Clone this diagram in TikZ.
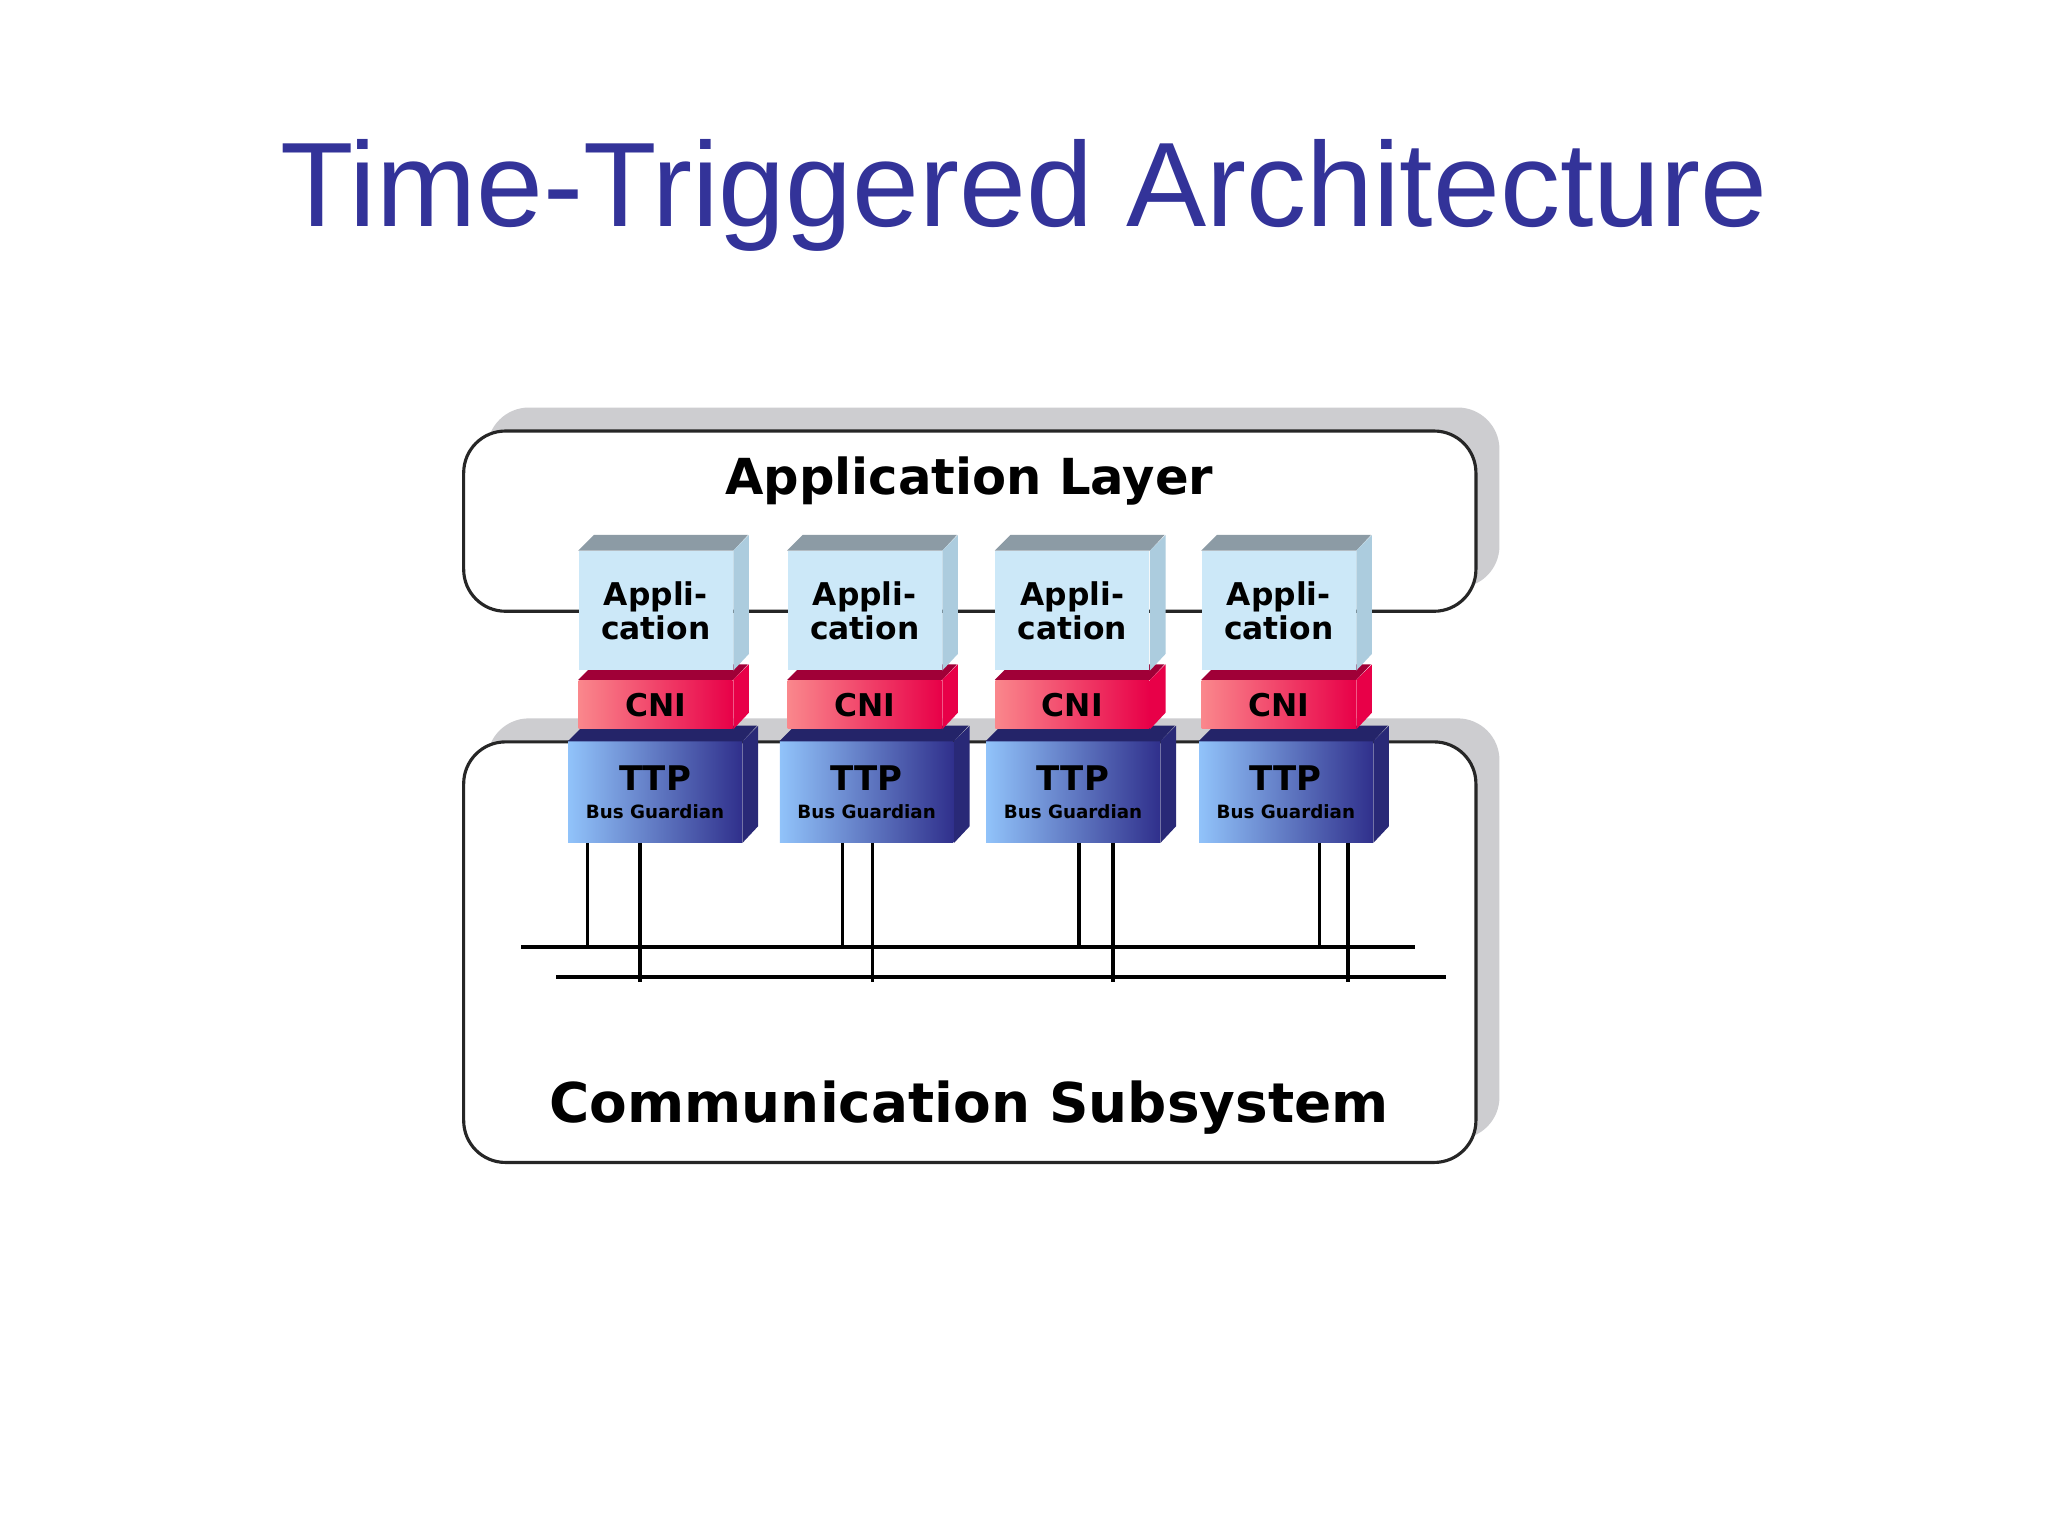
\documentclass[tikz,border=0pt]{standalone}
\usepackage{fontspec}
\setmainfont{Liberation Sans}
\newfontfamily\lab{DejaVu Sans}
\definecolor{titlec}{RGB}{51,51,153}
\definecolor{appf}{RGB}{204,232,248}
\definecolor{apps}{RGB}{172,204,222}
\definecolor{appt}{RGB}{140,155,165}
\definecolor{cnil}{RGB}{250,135,140}
\definecolor{cnir}{RGB}{232,0,72}
\definecolor{cnit}{RGB}{160,0,55}
\definecolor{ttpl}{RGB}{145,195,250}
\definecolor{ttpr}{RGB}{48,48,140}
\definecolor{ttpt}{RGB}{36,36,105}
\definecolor{shad}{RGB}{205,205,208}
\tikzset{
 layerbox/.style={draw=black!85,line width=1.2pt,fill=white,rounded corners=16pt},
 shadowbox/.style={fill=shad,rounded corners=16pt},
 appbox/.style={fill=appf,minimum width=59pt,minimum height=45.5pt,inner sep=0pt,align=center,font=\lab\bfseries\fontsize{12}{13}\selectfont},
 cnibox/.style={left color=cnil,right color=cnir,minimum width=59pt,minimum height=18.5pt,inner sep=0pt,font=\lab\bfseries\fontsize{12}{13}\selectfont},
 ttpbox/.style={left color=ttpl,right color=ttpr,minimum width=66.5pt,minimum height=38.5pt,inner sep=0pt,align=center},
 wire/.style={line width=1.3pt,black}
}
\begin{document}
\begin{tikzpicture}[x=0.5pt,y=-0.5pt]
\fill[white] (0,0) rectangle (1568,1176);
\useasboundingbox (0,0) rectangle (1568,1176);
\node[text=titlec,font=\fontsize{46}{50}\selectfont] (title) at (784,150) {Time-Triggered Architecture};
% shadows and layer boxes
\fill[shadowbox] (373,312) rectangle (1148,450);
\fill[shadowbox] (373,550) rectangle (1148,872);
\draw[layerbox] (355,330) rectangle (1130,468);
\draw[layerbox] (355,568) rectangle (1130,890);
\node[font=\lab\bfseries\fontsize{19}{22}\selectfont] (al) at (742,368) {Application Layer};
\node[font=\lab\bfseries\fontsize{21}{24}\selectfont] (cs) at (742,848) {Communication Subsystem};
% buses
\coordinate (bA1) at (399,725); \coordinate (bA2) at (1083,725);
\coordinate (bB1) at (426,748); \coordinate (bB2) at (1107,748);
\draw[wire] (bA1) -- (bA2);
\draw[wire] (bB1) -- (bB2);
\foreach \i/\ax/\tx/\la/\lb in {1/443/435/450/490,2/603/597/645/668,3/762/755/826/852,4/920/918/1010/1032}{
 % TTP
 \node[ttpbox] (ttp\i) at (\tx+66.5,606.5) {\lab\bfseries\fontsize{13}{14}\selectfont TTP\\[-1pt]\lab\bfseries\fontsize{7}{8}\selectfont Bus Guardian};
 \fill[ttpt] (ttp\i.north west) -- ++(6pt,6pt) -- ++(66.5pt,0) -- (ttp\i.north east) -- cycle;
 \fill[ttpr!85!black] (ttp\i.north east) -- ++(6pt,6pt) -- ++(0,-38.5pt) -- (ttp\i.south east) -- cycle;
 \draw[wire] (ttp\i.south -| \la,0) -- (\la,0 |- bA1);
 \draw[wire] (ttp\i.south -| \lb,0) -- (\lb,0 |- bB1) -- ++(0,-2pt);
 % CNI
 \node[cnibox] (cni\i) at (\ax+59,539.5) {CNI};
 \fill[cnit] (cni\i.north west) -- ++(6pt,6pt) -- ++(59pt,0) -- (cni\i.north east) -- cycle;
 \fill[cnir] (cni\i.north east) -- ++(6pt,6pt) -- ++(0,-18.5pt) -- (cni\i.south east) -- cycle;
 % application
 \node[appbox] (app\i) at (\ax+59,467.5) {Appli-\\cation};
 \fill[appt] (app\i.north west) -- ++(6pt,6pt) -- ++(59pt,0) -- (app\i.north east) -- cycle;
 \fill[apps] (app\i.north east) -- ++(6pt,6pt) -- ++(0,-45.5pt) -- (app\i.south east) -- cycle;
}
\end{tikzpicture}
\end{document}
